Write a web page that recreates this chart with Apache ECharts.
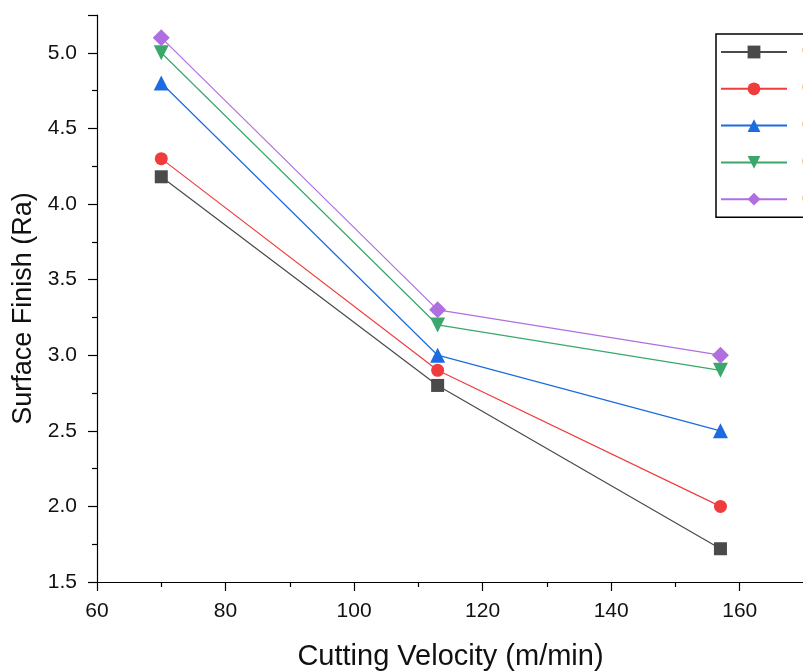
<!DOCTYPE html>
<html><head><meta charset="utf-8">
<script src="https://cdn.jsdelivr.net/npm/echarts@6/dist/echarts.min.js"></script>
<style>html,body{margin:0;padding:0;background:#fff}#c{width:803px;height:671px}</style>
</head><body><div id="c"></div>
<script>
const velocity = [70, 113, 157];
const seriesNames = ['0.05 mm/rev', '0.10 mm/rev', '0.15 mm/rev', '0.20 mm/rev', '0.25 mm/rev'];
const s1 = [4.18, 2.80, 1.72];
const s2 = [4.30, 2.90, 2.00];
const s3 = [4.80, 3.00, 2.50];
const s4 = [5.00, 3.20, 2.90];
const s5 = [5.10, 3.30, 3.00];
const xTicks = [60, 80, 100, 120, 140, 160];
const yTicks = [1.5, 2.0, 2.5, 3.0, 3.5, 4.0, 4.5, 5.0];

const values = [s1, s2, s3, s4, s5];
const colors = ['#4a4a4a', '#f03c3c', '#1c6be0', '#39a86a', '#b06fe0'];
const symbols = ['rect', 'circle', 'triangle', 'triangle', 'diamond'];
const rot = [0, 0, 0, 180, 0];
const sizes = [13, 13, 15, 15, 17];

const chart = echarts.init(document.getElementById('c'), null, {renderer: 'canvas'});
const font = 'Liberation Sans, Arial, sans-serif';
chart.setOption({
  animation: false,
  grid: {left: 97, right: -1, top: 15, bottom: 89, containLabel: false, outerBoundsMode: 'none'},
  legend: {
    orient: 'vertical', left: 716, top: 34,
    padding: [10, 6, 10, 4],
    borderColor: '#000', borderWidth: 1.5,
    itemWidth: 66, itemHeight: 16, itemGap: 20.8,
    textStyle: {fontFamily: font, fontSize: 16, lineHeight: 16, color: '#c07010', padding: [0,0,0,10]},
    data: seriesNames
  },
  xAxis: {
    type: 'value', min: 60, max: 170, interval: 20,
    axisLine: {onZero: false, lineStyle: {color: '#000', width: 1.2}},
    axisTick: {inside: false, length: 9, lineStyle: {color: '#000', width: 1.2}},
    minorTick: {show: true, splitNumber: 2, length: 5, lineStyle: {color: '#000', width: 1.2}},
    splitLine: {show: false},
    axisLabel: {fontFamily: font, fontSize: 21, color: '#111', margin: 19,
      formatter: v => xTicks.includes(v) ? String(v) : ''},
    name: 'Cutting Velocity (m/min)', nameLocation: 'middle', nameGap: 60,
    nameTextStyle: {fontFamily: font, fontSize: 29, color: '#111'}
  },
  yAxis: {
    type: 'value', min: 1.5, max: 5.25, interval: 0.5,
    axisLine: {onZero: false, lineStyle: {color: '#000', width: 1.2}},
    axisTick: {inside: false, length: 9, lineStyle: {color: '#000', width: 1.2}},
    minorTick: {show: true, splitNumber: 2, length: 5, lineStyle: {color: '#000', width: 1.2}},
    splitLine: {show: false},
    axisLabel: {fontFamily: font, fontSize: 21, color: '#111', margin: 20,
      formatter: v => yTicks.some(t => Math.abs(t - v) < 1e-9) ? v.toFixed(1) : ''},
    name: 'Surface Finish (Ra)', nameLocation: 'middle', nameGap: 57,
    nameTextStyle: {fontFamily: font, fontSize: 27, color: '#111', padding: [0, 20, 0, 0]}
  },
  series: values.map((d, i) => ({
    name: seriesNames[i], type: 'line',
    data: velocity.map((x, j) => [x, d[j]]),
    symbol: symbols[i], symbolSize: sizes[i], symbolRotate: rot[i],
    showSymbol: true,
    lineStyle: {color: colors[i], width: 1.2},
    itemStyle: {color: colors[i], borderWidth: 0},
    z: 2 + i
  }))
});
</script></body></html>
